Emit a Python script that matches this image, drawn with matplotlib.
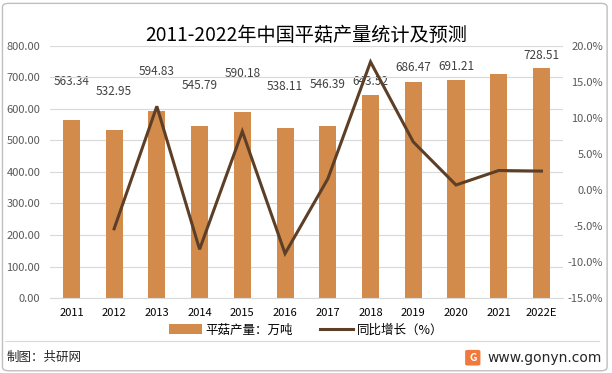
import matplotlib
matplotlib.use("Agg")
import matplotlib.pyplot as plt
from matplotlib.patches import FancyBboxPatch, Rectangle
from matplotlib.lines import Line2D

plt.rcParams["font.family"] = ["Noto Sans CJK SC", "DejaVu Sans"]

# —— 数据 ——
years = ["2011", "2012", "2013", "2014", "2015", "2016", "2017",
         "2018", "2019", "2020", "2021", "2022E"]
output = [563.34, 532.95, 594.83, 545.79, 590.18, 538.11, 546.39,
          643.52, 686.47, 691.21, 709.9, 728.51]
growth = [None, -5.39, 11.61, -8.24, 8.13, -8.82, 1.54,
          17.78, 6.67, 0.69, 2.70, 2.62]
shown_labels = ["563.34", "532.95", "594.83", "545.79", "590.18", "538.11", "546.39",
                "643.52", "686.47", "691.21", None, "728.51"]

# 标签偏移（pt），原图中手动摆放
label_offsets = [28, 28, 28, 29, 28, 30, 30, 10, 10, 10, 0, 9]

BAR_C = "#D38B4C"
LINE_C = "#5C3F26"
GRID_C = "#D9D9D9"
TXT_C = "#595959"

fig = plt.figure(figsize=(6.12, 3.73), dpi=100)
fig.patch.set_facecolor("white")

# 外框
fig.add_artist(FancyBboxPatch((0.004, 0.006), 0.988, 0.985, boxstyle="round,pad=0,rounding_size=0.01",
                              transform=fig.transFigure, fc="none", ec="#BFBFBF", lw=1.0))

ax = fig.add_axes([0.0817, 0.201, 0.838, 0.676])
x = list(range(len(years)))
ax.bar(x, output, width=0.4, color=BAR_C, zorder=2)
ax.set_xlim(-0.5, len(years) - 0.5)
ax.set_ylim(0, 800)
ax.set_yticks(range(0, 801, 100))
ax.set_yticklabels([f"{v:.2f}" for v in range(0, 801, 100)], fontsize=8, color=TXT_C)
ax.set_xticks(x)
ax.set_xticklabels(years, fontsize=8, color="#000000")
ax.tick_params(axis="both", length=0)
ax.tick_params(axis="y", pad=7)
ax.tick_params(axis="x", pad=7)
ax.grid(axis="y", color=GRID_C, lw=0.8, zorder=0)
for s in ax.spines.values():
    s.set_visible(False)
ax.spines["bottom"].set_visible(True)
ax.spines["bottom"].set_color(GRID_C)

for xi, v, lab, off in zip(x, output, shown_labels, label_offsets):
    if lab is None:
        continue
    ax.annotate(lab, (xi, v), xytext=(0, off), textcoords="offset points",
                ha="center", va="center", fontsize=8.5, color="#404040", zorder=1)

ax2 = ax.twinx()
gx = [xi for xi, g in zip(x, growth) if g is not None]
gy = [g for g in growth if g is not None]
ax2.plot(gx, gy, color=LINE_C, lw=2.2, zorder=3, solid_joinstyle="miter")
ax2.set_ylim(-15, 20)
ax2.set_yticks(range(-15, 21, 5))
ax2.set_yticklabels([f"{v:.1f}%" for v in range(-15, 21, 5)], fontsize=8, color=TXT_C, ha="right")
ax2.tick_params(axis="y", length=0, pad=29)
for s in ax2.spines.values():
    s.set_visible(False)

# 标题
fig.text(0.5, 0.906, "2011-2022年中国平菇产量统计及预测", ha="center", va="center",
         fontsize=13.8, color="#000000")

# 图例
handles = [Rectangle((0, 0), 1, 1, fc=BAR_C, ec="none"),
           Line2D([0], [0], color=LINE_C, lw=2.2)]
fig.legend(handles, ["平菇产量：万吨", "同比增长（%）"], loc="center",
           bbox_to_anchor=(0.5, 0.115), ncol=2, frameon=False, fontsize=9,
           handlelength=2.6, handleheight=0.9, columnspacing=2.2, handletextpad=0.3)

# 页脚
fig.add_artist(Line2D([0.008, 0.978], [0.086, 0.086], transform=fig.transFigure,
                      color="#D9D9D9", lw=0.8))
fig.text(0.01, 0.043, "制图：共研网", ha="left", va="center", fontsize=9, color="#262626")
fig.add_artist(FancyBboxPatch((0.760, 0.020), 0.025, 0.042, boxstyle="round,pad=0,rounding_size=0.004",
                              transform=fig.transFigure, fc="#F07A3C", ec="none"))
fig.text(0.7725, 0.041, "G", ha="center", va="center", fontsize=7.5, color="white", fontweight="bold")
fig.text(0.796, 0.041, "www.gonyn.com", ha="left", va="center", fontsize=10, color="#262626",
         family=["DejaVu Sans"])

fig.savefig("out.png", dpi=100)
